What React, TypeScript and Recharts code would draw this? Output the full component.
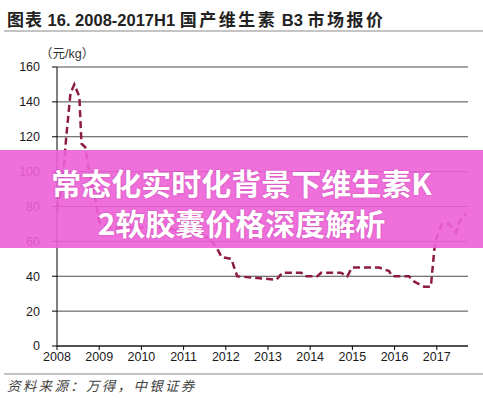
import React from "react";
import { LineChart, Line, XAxis, YAxis, CartesianGrid } from "recharts";

// 国产维生素 B3 报价 (元/kg), 读图估算
const years = [
  2008.0, 2008.13, 2008.22, 2008.32, 2008.41, 2008.53, 2008.58, 2008.67, 2008.77,
  2008.93, 2009.0, 2009.25, 2009.95, 2010.6, 2010.97, 2011.37, 2011.6, 2011.77,
  2011.9, 2012.13, 2012.27, 2013.2, 2013.34, 2013.79, 2013.88, 2014.17, 2014.26,
  2014.73, 2014.88, 2014.99, 2015.63, 2015.87, 2015.94, 2016.34, 2016.46, 2016.7,
  2016.86, 2016.94, 2016.98, 2017.12, 2017.29, 2017.46, 2017.53, 2017.69,
];
const prices = [
  78, 93, 120, 145, 150, 143, 116, 114, 99,
  82, 71, 68, 68, 68, 65, 64, 62, 57,
  51, 50, 40, 38, 42, 42, 40, 40, 42,
  42, 40, 45, 45, 43, 40, 40, 37, 34,
  34, 55, 61, 70, 70, 65, 71, 76,
];
const xTicks = [2008, 2009, 2010, 2011, 2012, 2013, 2014, 2015, 2016, 2017];
const yTicks = [0, 20, 40, 60, 80, 100, 120, 140, 160];

const cjk = "'Noto Sans CJK SC', sans-serif";
const latin = "'Liberation Sans', Arial, sans-serif";

const App: React.FC = () => {
  const chartData = years.map((year, i) => ({ year, price: prices[i] }));

  return (
    <div
      style={{
        position: "absolute",
        left: 0,
        top: 0,
        width: 483,
        height: 400,
        background: "#fff",
        overflow: "hidden",
      }}
    >
      {/* 标题 */}
      <div
        style={{
          position: "absolute",
          left: 7,
          top: 7,
          fontFamily: `'Liberation Sans', ${cjk}`,
          fontWeight: 700,
          fontSize: 16.5,
          color: "#222",
          whiteSpace: "nowrap",
          lineHeight: "24px",
        }}
      >
        <span style={{ fontFamily: cjk, fontSize: 17, letterSpacing: 1 }}>图表</span>{" "}
        16. 2008-2017H1{" "}
        <span style={{ fontFamily: cjk, fontSize: 17, letterSpacing: 2.5 }}>国产维生素</span>{" "}
        B3{" "}
        <span style={{ fontFamily: cjk, fontSize: 17, letterSpacing: 2.5 }}>市场报价</span>
      </div>
      <div style={{ position: "absolute", left: 4, right: 0, top: 30, height: 2, background: "#c4c4c4" }} />

      {/* 单位 */}
      <div
        style={{
          position: "absolute",
          left: 40,
          top: 43,
          fontFamily: `'Liberation Sans', ${cjk}`,
          fontSize: 12.5,
          color: "#333",
          whiteSpace: "nowrap",
        }}
      >
        （元/kg）
      </div>

      <div style={{ position: "absolute", left: 0, top: 0 }}>
        <LineChart
          width={483}
          height={400}
          data={chartData}
          margin={{ top: 67, right: 15, bottom: 34, left: 0 }}
        >
          <CartesianGrid vertical={false} stroke="#4a4a4a" strokeWidth={1} />
          <XAxis
            dataKey="year"
            type="number"
            domain={[2008, 2017.74]}
            ticks={xTicks}
            allowDataOverflow
            height={20}
            tickSize={4}
            tickMargin={2}
            stroke="#000"
            tick={{ fill: "#1a1a1a", fontSize: 12.5, fontFamily: latin }}
            tickFormatter={(v: number) => String(v)}
          />
          <YAxis
            domain={[0, 160]}
            ticks={yTicks}
            width={57}
            tickSize={5}
            tickMargin={12}
            stroke="#000"
            tick={{ fill: "#1a1a1a", fontSize: 12.5, fontFamily: latin }}
          />
          <Line
            type="linear"
            dataKey="price"
            stroke="#8c1c40"
            strokeWidth={2.5}
            strokeDasharray="7 4"
            dot={false}
            isAnimationActive={false}
          />
        </LineChart>
      </div>

      {/* 覆盖横幅 */}
      <div
        style={{
          position: "absolute",
          left: 0,
          top: 150,
          width: 483,
          height: 98,
          background: "rgba(237,95,215,0.9)",
          color: "#fff",
          fontFamily: cjk,
          fontWeight: 700,
          fontSize: 30,
          lineHeight: "40px",
          textAlign: "center",
          paddingTop: 12,
          boxSizing: "border-box",
          textShadow: "0 0 2px rgba(120,0,90,0.35)",
        }}
      >
        常态化实时化背景下维生素K
        <br />
        2软胶囊价格深度解析
      </div>

      {/* 资料来源 */}
      <div style={{ position: "absolute", left: 4, right: 0, top: 373, height: 2, background: "#c4c4c4" }} />
      <div
        style={{
          position: "absolute",
          left: 7,
          top: 375,
          fontFamily: cjk,
          fontStyle: "italic",
          fontSize: 13.5,
          letterSpacing: 2.3,
          color: "#444",
          whiteSpace: "nowrap",
        }}
      >
        资料来源：万得，中银证券
      </div>
    </div>
  );
};

export default App;
